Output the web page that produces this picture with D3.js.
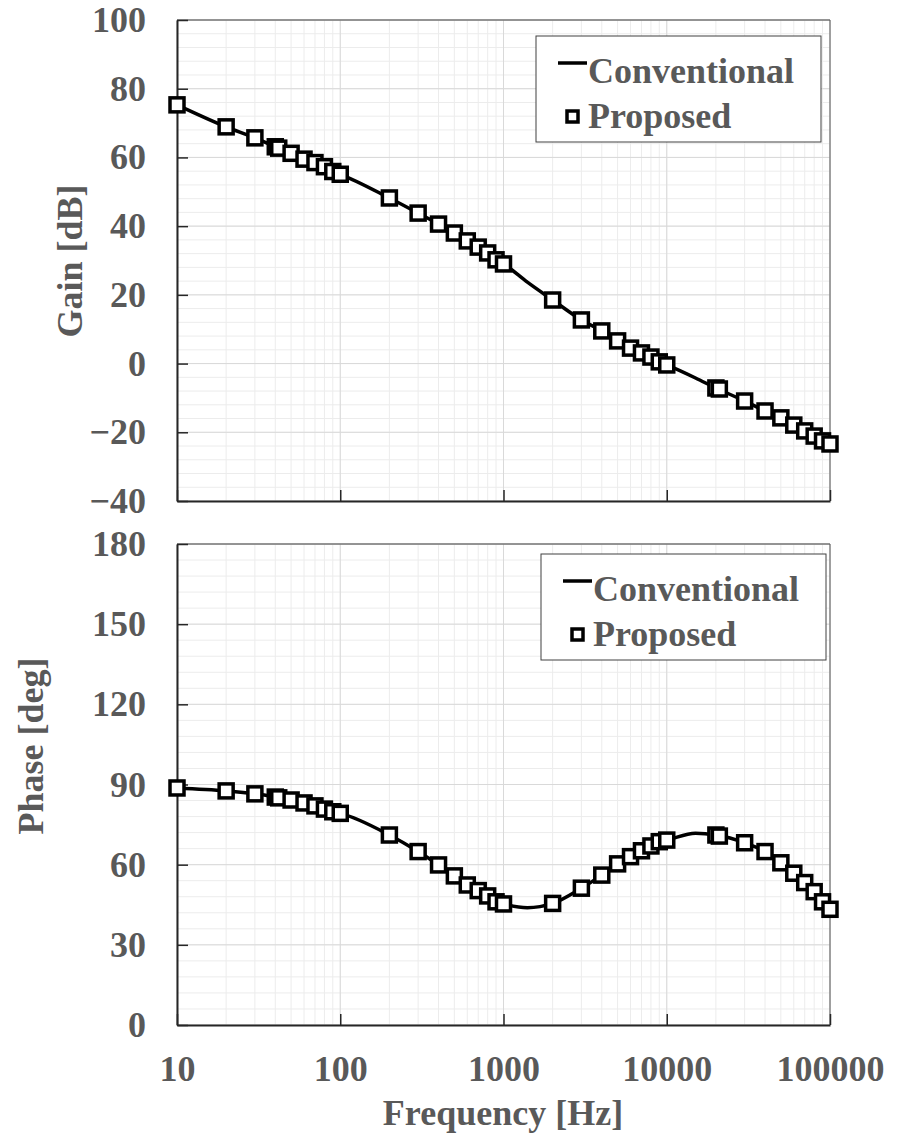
<!DOCTYPE html>
<html>
<head>
<meta charset="utf-8">
<script src="https://cdn.jsdelivr.net/npm/d3@7"></script>
<style>
    body { margin: 0; background: #fff; }
</style>
</head>
<body>
<script>
// proposed (markers)
var freq = [10,20,30,40,42,50,60,70,80,90,100,200,300,400,500,600,700,800,900,1000,
    2000,3000,4000,5000,6000,7000,8000,9000,10000,20000,21000,30000,40000,50000,60000,70000,80000,90000,100000];
var gainProposed = [75.3,68.9,65.7,63.1,62.7,61.2,59.5,58.5,57.3,55.9,55.1,48.2,43.8,40.6,38.0,35.7,33.9,32.2,30.2,29.0,
    18.5,12.7,9.5,6.6,4.5,3.1,1.9,0.5,-0.4,-7.1,-7.4,-10.9,-13.8,-15.8,-17.9,-19.6,-21.1,-22.5,-23.4];
var phaseProposed = [88.7,87.6,86.5,85.3,85.0,84.2,83.1,82.0,80.8,79.8,79.2,71.1,64.9,59.9,55.8,52.4,50.3,48.3,46.1,45.3,
    45.5,51.2,56.1,60.3,63.0,65.2,67.0,68.6,69.2,71.1,70.7,68.2,64.9,60.7,56.8,53.3,49.9,46.1,43.3];

// conventional (line)
var convFreq = [10,20,30,40,50,60,70,80,90,100,200,300,400,500,600,700,800,900,1000,1400,
    2000,3000,4000,5000,6000,7000,8000,9000,10000,15000,20000,30000,40000,50000,60000,70000,80000,90000,100000];
var convGain = [75.3,68.9,65.7,63.1,61.2,59.5,58.5,57.3,55.9,55.1,48.2,43.8,40.6,38.0,35.7,33.9,32.2,30.2,29.0,23.7,
    18.5,12.7,9.5,6.6,4.5,3.1,1.9,0.5,-0.4,-4.2,-7.1,-10.9,-13.8,-15.8,-17.9,-19.6,-21.1,-22.5,-23.4];
var convPhase = [88.7,87.6,86.5,85.3,84.2,83.1,82.0,80.8,79.8,79.2,71.1,64.9,59.9,55.8,52.4,50.3,48.3,46.1,45.3,43.9,
    45.5,51.2,56.1,60.3,63.0,65.2,67.0,68.6,69.2,71.8,71.1,68.2,64.9,60.7,56.8,53.3,49.9,46.1,43.3];

var xTicks = [10,100,1000,10000,100000];
var gainTicks = [-40,-20,0,20,40,60,80,100];
var phaseTicks = [0,30,60,90,120,150,180];
var legendNames = ['Conventional','Proposed'];

var width = 902, height = 1135;
var left = 177, right = 830;
var textColor = '#595959';
var fontFam = 'Liberation Serif';

var svg = d3.select('body').append('svg')
    .attr('width', width)
    .attr('height', height);

var xScale = d3.scaleLog().domain([10, 100000]).range([left, right]);

// minor x grid values 1..9 per decade
var xGrid = [];
for (var dec = 10; dec < 100000; dec *= 10){
    for (var m = 1; m < 10; m++){ xGrid.push(dec*m); }
}
xGrid.push(100000);

var styleText = function(sel){
    sel.attr('font-family', fontFam)
        .attr('font-weight', 'bold')
        .attr('font-size', 36)
        .attr('fill', textColor);
};

var drawPanel = function(cfg){
    var yScale = d3.scaleLinear().domain(cfg.domain).range([cfg.bottom, cfg.top]);
    var g = svg.append('g');

    // minor grid
    var yMinor = d3.range(cfg.domain[0], cfg.domain[1] + 0.01, cfg.minor);
    g.selectAll('.hminor').data(yMinor).enter().append('line')
        .attr('x1', left).attr('x2', right)
        .attr('y1', d=>yScale(d)).attr('y2', d=>yScale(d))
        .attr('stroke', '#ececec').attr('stroke-width', 1);
    g.selectAll('.vminor').data(xGrid).enter().append('line')
        .attr('x1', d=>xScale(d)).attr('x2', d=>xScale(d))
        .attr('y1', cfg.top).attr('y2', cfg.bottom)
        .attr('stroke', '#ececec').attr('stroke-width', 1);
    // major grid
    g.selectAll('.hmajor').data(cfg.ticks).enter().append('line')
        .attr('x1', left).attr('x2', right)
        .attr('y1', d=>yScale(d)).attr('y2', d=>yScale(d))
        .attr('stroke', '#d9d9d9').attr('stroke-width', 1);
    g.selectAll('.vmajor').data(xTicks).enter().append('line')
        .attr('x1', d=>xScale(d)).attr('x2', d=>xScale(d))
        .attr('y1', cfg.top).attr('y2', cfg.bottom)
        .attr('stroke', '#d9d9d9').attr('stroke-width', 1);

    // frame top/right
    g.append('line').attr('x1', left).attr('x2', right).attr('y1', cfg.top).attr('y2', cfg.top)
        .attr('stroke', '#404040').attr('stroke-width', 1);
    g.append('line').attr('x1', right).attr('x2', right).attr('y1', cfg.top).attr('y2', cfg.bottom)
        .attr('stroke', '#595959').attr('stroke-width', 1);

    // axes
    var yAxis = d3.axisLeft(yScale).tickValues(cfg.ticks).tickSizeInner(-11).tickSizeOuter(0).tickPadding(31);
    var ya = g.append('g').attr('transform', 'translate(' + left + ',0)').call(yAxis);
    var xAxis = d3.axisBottom(xScale).tickValues(xTicks).tickSizeInner(-11).tickSizeOuter(0).tickPadding(30)
        .tickFormat(cfg.xLabels ? d3.format('d') : '');
    var xa = g.append('g').attr('transform', 'translate(0,' + cfg.bottom + ')').call(xAxis);

    [ya, xa].forEach(function(a){
        a.attr('font-family', fontFam).attr('font-size', 36);
        a.select('.domain').attr('stroke', '#262626').attr('stroke-width', 2);
        a.selectAll('.tick line').attr('stroke', '#262626').attr('stroke-width', 1.5);
        a.selectAll('.tick text').call(styleText);
    });

    // conventional line
    var line = d3.line()
        .x(d=>xScale(d[0]))
        .y(d=>yScale(d[1]))
        .curve(d3.curveMonotoneX);
    g.append('path')
        .datum(d3.zip(convFreq, cfg.conv))
        .attr('d', line)
        .attr('fill', 'none').attr('stroke', '#000').attr('stroke-width', 3.5);

    // proposed markers
    g.selectAll('.mark').data(d3.zip(freq, cfg.prop)).enter().append('rect')
        .attr('x', d=>xScale(d[0]) - 7)
        .attr('y', d=>yScale(d[1]) - 7)
        .attr('width', 14).attr('height', 14)
        .attr('fill', '#fff').attr('stroke', '#000').attr('stroke-width', 3.5);

    // axis title
    svg.append('text')
        .attr('transform', 'translate(' + cfg.titleX + ',' + cfg.titleY + ') rotate(-90)')
        .attr('text-anchor', 'middle')
        .call(styleText)
        .text(cfg.title);

    // legend
    var lx = cfg.legend[0], ly = cfg.legend[1];
    g.append('rect').attr('x', lx).attr('y', ly).attr('width', 285).attr('height', 106)
        .attr('fill', '#fff').attr('stroke', '#404040').attr('stroke-width', 1);
    g.append('line').attr('x1', lx + 22).attr('x2', lx + 51).attr('y1', ly + 27).attr('y2', ly + 27)
        .attr('stroke', '#000').attr('stroke-width', 3.5);
    g.append('rect').attr('x', lx + 31).attr('y', ly + 75).attr('width', 11).attr('height', 11)
        .attr('fill', '#fff').attr('stroke', '#000').attr('stroke-width', 3.5);
    g.selectAll('.legtext').data(legendNames).enter().append('text')
        .attr('x', lx + 52)
        .attr('y', (d, i) => ly + 47 + i*45)
        .call(styleText)
        .text(d=>d);
};

drawPanel({top: 20, bottom: 501, domain: [-40, 100], minor: 4, ticks: gainTicks,
    conv: convGain, prop: gainProposed, xLabels: false,
    title: 'Gain [dB]', titleX: 82, titleY: 261, legend: [536, 36]});

drawPanel({top: 544, bottom: 1025, domain: [0, 180], minor: 6, ticks: phaseTicks,
    conv: convPhase, prop: phaseProposed, xLabels: true,
    title: 'Phase [deg]', titleX: 43, titleY: 746, legend: [541, 554]});

svg.append('text')
    .attr('x', 503).attr('y', 1125)
    .attr('text-anchor', 'middle')
    .call(styleText)
    .text('Frequency [Hz]');
</script>
</body>
</html>
